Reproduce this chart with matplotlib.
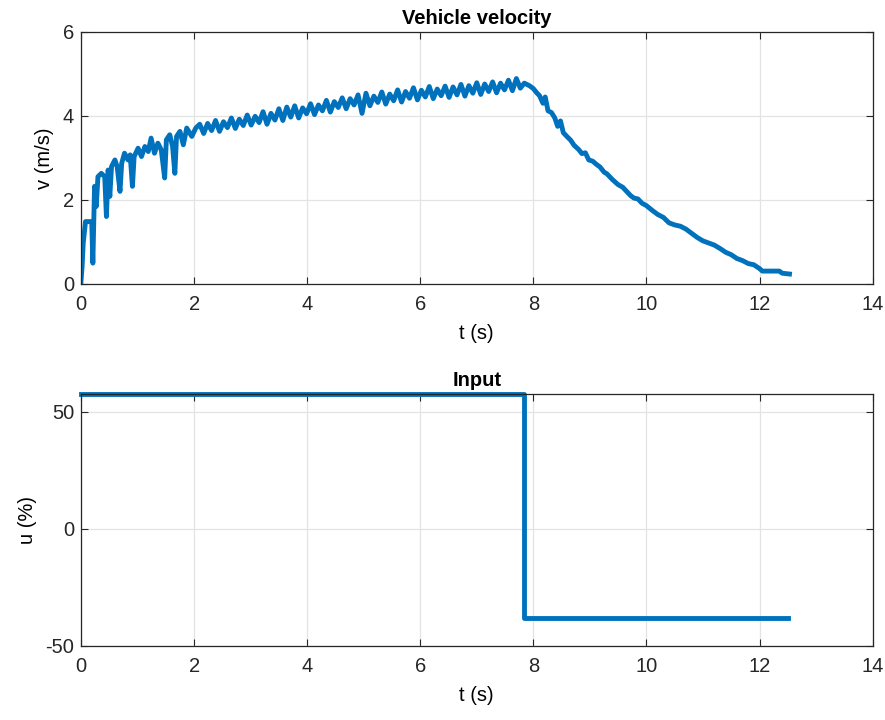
import numpy as np
import matplotlib.pyplot as plt

plt.rcParams['font.family'] = ['Liberation Sans', 'DejaVu Sans']
plt.rcParams['axes.unicode_minus'] = False

# velocity, start-up part (dips from wheel slip)
t_start = [0.00, 0.02, 0.04, 0.08, 0.19, 0.21, 0.24, 0.27, 0.30, 0.36, 0.42, 0.45, 0.48,
           0.51, 0.54, 0.60, 0.64, 0.69, 0.72, 0.77, 0.83, 0.87, 0.91, 0.94, 1.01, 1.07,
           1.13, 1.19, 1.24, 1.30, 1.36, 1.42, 1.48, 1.51, 1.57, 1.62, 1.66, 1.69, 1.75,
           1.81, 1.87, 1.96, 2.03]
v_start = [0.05, 0.41, 0.97, 1.48, 1.48, 0.49, 2.32, 1.84, 2.55, 2.63, 2.55, 1.60, 2.71,
           2.08, 2.79, 2.95, 2.79, 2.20, 2.87, 3.11, 2.95, 3.07, 2.32, 3.03, 3.23, 3.03,
           3.27, 3.15, 3.47, 3.11, 3.35, 3.19, 2.52, 3.43, 3.55, 3.27, 2.63, 3.51, 3.63,
           3.31, 3.71, 3.51, 3.71]

# velocity, accelerating part (oscillating)
v_mid = [3.80, 3.58, 3.82, 3.65, 3.89, 3.63, 3.86, 3.72, 3.95, 3.70, 3.92, 3.77, 4.02,
         3.78, 3.99, 3.84, 4.10, 3.80, 4.06, 3.90, 4.17, 3.89, 4.21, 3.97, 4.24, 3.95,
         4.19, 4.05, 4.29, 4.03, 4.26, 4.12, 4.37, 4.09, 4.34, 4.20, 4.43, 4.17, 4.41,
         4.26, 4.50, 4.06, 4.54, 4.24, 4.47, 4.32, 4.57, 4.28, 4.52, 4.36, 4.62, 4.33,
         4.58, 4.42, 4.67, 4.38, 4.61, 4.45, 4.70, 4.41, 4.64, 4.48, 4.71, 4.44, 4.69,
         4.50, 4.75, 4.47, 4.72, 4.54, 4.79, 4.51, 4.76, 4.58, 4.81, 4.55, 4.78, 4.62,
         4.85, 4.60, 4.89, 4.66, 4.78]
t_mid = np.linspace(2.10, 7.84, len(v_mid))

# velocity, braking part
t_end = [7.93, 8.00, 8.06, 8.11, 8.17, 8.21, 8.26, 8.32, 8.38, 8.43, 8.48, 8.53, 8.60,
         8.66, 8.72, 8.80, 8.86, 8.92, 8.98, 9.05, 9.11, 9.18, 9.25, 9.30, 9.40, 9.50,
         9.58, 9.65, 9.72, 9.78, 9.85, 9.92, 10.0, 10.1, 10.2, 10.3, 10.4, 10.5, 10.6,
         10.7, 10.8, 10.9, 11.0, 11.1, 11.2, 11.3, 11.4, 11.5, 11.6, 11.7, 11.8, 11.9,
         12.0, 12.05, 12.2, 12.35, 12.4, 12.53]
v_end = [4.72, 4.65, 4.55, 4.48, 4.30, 4.45, 4.12, 4.08, 3.95, 3.75, 3.88, 3.60, 3.50,
         3.42, 3.30, 3.20, 3.10, 3.12, 2.95, 2.92, 2.85, 2.78, 2.66, 2.62, 2.48, 2.36,
         2.30, 2.20, 2.10, 2.04, 2.02, 1.92, 1.86, 1.75, 1.65, 1.58, 1.45, 1.40, 1.37,
         1.30, 1.20, 1.10, 1.02, 0.97, 0.92, 0.84, 0.75, 0.69, 0.60, 0.55, 0.48, 0.45,
         0.36, 0.30, 0.30, 0.30, 0.25, 0.23]

t_v = np.concatenate([t_start, t_mid, t_end])
v = np.concatenate([v_start, v_mid, v_end])

# input signal
t_u = [0.0, 7.83, 12.51]
u = [57.6, -38.2, -38.2]

blue = '#0072BD'
fs = 14.5
fig = plt.figure(figsize=(8.85, 7.2), dpi=100)
ax1 = fig.add_axes([0.0915, 0.606, 0.8945, 0.3496])
ax2 = fig.add_axes([0.0915, 0.1028, 0.8945, 0.35])

ax1.plot(t_v, v, color=blue, lw=3.5, solid_joinstyle='round')
ax1.set_xlim(0, 14)
ax1.set_ylim(0, 6)
ax1.set_yticks([0, 2, 4, 6])
ax1.set_title('Vehicle velocity', fontsize=fs, fontweight='bold', pad=6)
ax1.set_xlabel('t (s)', fontsize=fs, labelpad=7)
ax1.set_ylabel('v (m/s)', fontsize=fs, labelpad=6)

ax2.plot(t_u, u, color=blue, lw=3.5, drawstyle='steps-post', clip_on=False)
ax2.set_xlim(0, 14)
ax2.set_ylim(-50, 57.6)
ax2.set_yticks([-50, 0, 50])
ax2.set_title('Input', fontsize=fs, fontweight='bold', pad=6)
ax2.set_xlabel('t (s)', fontsize=fs, labelpad=7)
ax2.set_ylabel('u (%)', fontsize=fs, labelpad=6)

for ax in (ax1, ax2):
    ax.set_xticks(range(0, 15, 2))
    ax.grid(True, color='#e3e3e3', lw=0.9)
    ax.set_axisbelow(True)
    ax.tick_params(direction='in', top=True, right=True, labelsize=fs,
                   color='#262626', labelcolor='#262626', length=5)
    ax.tick_params(axis='x', pad=8)
    ax.tick_params(axis='y', pad=5)
    for s in ax.spines.values():
        s.set_color('#262626')
        s.set_linewidth(0.9)

fig.savefig('out.png', dpi=100)
